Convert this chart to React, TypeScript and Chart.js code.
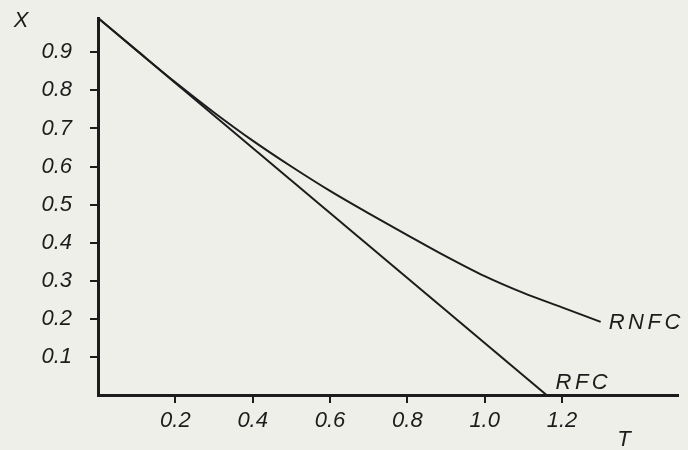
import React, { useEffect, useRef } from "react";
import { Chart, registerables } from "chart.js";

Chart.register(...registerables);

const T_RFC = [0, 1.16];
const X_RFC = [0.99, 0];
const T_RNFC = [0, 0.1, 0.2, 0.3, 0.4, 0.5, 0.6, 0.7, 0.8, 0.9, 1.0, 1.1, 1.2, 1.3];
const X_RNFC = [0.99, 0.905, 0.821, 0.742, 0.668, 0.6, 0.536, 0.477, 0.42, 0.364, 0.312, 0.268, 0.23, 0.192];
const X_TICKS = [0.2, 0.4, 0.6, 0.8, 1.0, 1.2];
const Y_TICKS = [0.1, 0.2, 0.3, 0.4, 0.5, 0.6, 0.7, 0.8, 0.9];
const SERIES_NAMES = ["RNFC", "RFC"];
const AXIS_X_NAME = "T";
const AXIS_Y_NAME = "X";

const INK = "#1c1c1c";
const FONT = { family: "'Liberation Sans', Arial, sans-serif", size: 22, style: "italic" as const };

const labelsPlugin = {
  id: "handLabels",
  afterDraw(chart: any) {
    const ctx = chart.ctx;
    const xs = chart.scales.x;
    const ys = chart.scales.y;
    ctx.save();
    ctx.fillStyle = INK;
    ctx.font = `italic 22px 'Liberation Sans', Arial, sans-serif`;
    (ctx as any).letterSpacing = "3.5px";
    ctx.textBaseline = "middle";
    ctx.textAlign = "left";
    const n = T_RNFC.length - 1;
    const rx = xs.getPixelForValue(T_RNFC[n]);
    const ry = ys.getPixelForValue(X_RNFC[n]);
    ctx.fillText(SERIES_NAMES[0], rx + 8, ry + 1);
    const fx = xs.getPixelForValue(T_RFC[1]);
    const fy = ys.getPixelForValue(X_RFC[1]);
    ctx.fillText(SERIES_NAMES[1], fx + 9, fy - 12);
    (ctx as any).letterSpacing = "0px";
    ctx.textAlign = "center";
    ctx.fillText(AXIS_X_NAME, xs.getPixelForValue(1.36), chart.chartArea.bottom + 45);
    ctx.fillText(AXIS_Y_NAME, 21, chart.chartArea.top + 3);
    ctx.restore();
  },
};

export default function App() {
  const ref = useRef<HTMLCanvasElement>(null);
  useEffect(() => {
    if (!ref.current) return;
    const chart = new Chart(ref.current, {
      type: "scatter",
      data: {
        datasets: [
          {
            label: SERIES_NAMES[0],
            data: T_RNFC.map((t, i) => ({ x: t, y: X_RNFC[i] })),
            showLine: true,
            borderColor: INK,
            borderWidth: 2,
            pointRadius: 0,
            cubicInterpolationMode: "monotone",
          },
          {
            label: SERIES_NAMES[1],
            data: T_RFC.map((t, i) => ({ x: t, y: X_RFC[i] })),
            showLine: true,
            borderColor: INK,
            borderWidth: 2,
            pointRadius: 0,
          },
        ],
      },
      options: {
        animation: false,
        responsive: false,
        layout: { padding: { top: 18, right: 10, left: 0, bottom: 0 } },
        plugins: { legend: { display: false }, tooltip: { enabled: false } },
        scales: {
          x: {
            type: "linear",
            min: 0,
            max: 1.5,
            afterBuildTicks: (s: any) => {
              s.ticks = X_TICKS.map((v) => ({ value: v }));
            },
            afterFit: (s: any) => {
              s.height = 55;
              s.paddingLeft = 0;
              s.paddingRight = 0;
            },
            ticks: {
              color: INK,
              font: FONT,
              padding: 5,
              maxRotation: 0,
              callback: (v: any) => Number(v).toFixed(1),
            },
            grid: { drawOnChartArea: false, drawTicks: true, tickLength: 8, color: INK, lineWidth: 2 },
            border: { display: true, color: INK, width: 3 },
          },
          y: {
            type: "linear",
            min: 0,
            max: 0.99,
            afterBuildTicks: (s: any) => {
              s.ticks = Y_TICKS.map((v) => ({ value: v }));
            },
            afterFit: (s: any) => {
              s.width = 98;
              s.paddingTop = 0;
              s.paddingBottom = 0;
            },
            ticks: {
              color: INK,
              font: FONT,
              padding: 18,
              callback: (v: any) => Number(v).toFixed(1),
            },
            grid: { drawOnChartArea: false, drawTicks: true, tickLength: 8, color: INK, lineWidth: 2 },
            border: { display: true, color: INK, width: 3 },
          },
        },
      },
      plugins: [labelsPlugin],
    });
    return () => chart.destroy();
  }, []);
  return (
    <div style={{ position: "fixed", left: 0, top: 0, width: 688, height: 450, background: "#efefea" }}>
      <canvas ref={ref} width={688} height={450} style={{ display: "block", width: 688, height: 450 }} />
    </div>
  );
}
